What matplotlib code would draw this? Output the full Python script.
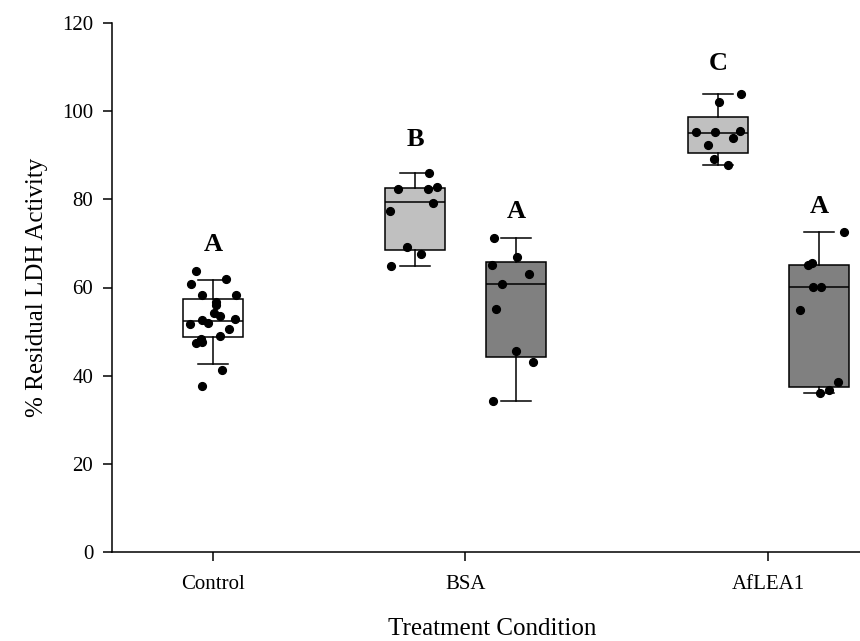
import numpy as np
import matplotlib
matplotlib.use("Agg")
from matplotlib import pyplot as plt

# =======================
# DATA
# =======================

conditions = ["Control", "BSA", "AfLEA1"]

# individual measurements (% residual LDH activity)
control_vals = [63.7, 60.9, 61.9, 58.2, 58.2, 56.8, 56.0, 54.2, 53.6, 52.9,
                52.7, 52.0, 51.8, 50.5, 49.1, 48.4, 47.5, 47.6, 41.2, 37.7]
bsa_light_vals = [85.9, 82.4, 82.3, 82.9, 79.2, 77.4, 69.3, 67.6, 64.8]
bsa_dark_vals = [71.3, 66.9, 65.1, 63.0, 60.7, 55.1, 45.7, 43.1, 34.3]
aflea_light_vals = [103.9, 102.1, 95.3, 95.3, 95.6, 93.9, 92.4, 89.1, 87.8]
aflea_dark_vals = [72.5, 65.0, 65.5, 60.1, 60.1, 54.8, 38.6, 36.8, 36.0]

# horizontal jitter of the points inside each box
control_jitter = [-0.17, -0.22, 0.13, -0.11, 0.23, 0.03, 0.03, 0.01, 0.07, 0.22,
                  -0.11, -0.05, -0.23, 0.16, 0.07, -0.12, -0.17, -0.11, 0.09, -0.11]
bsa_light_jitter = [0.14, -0.17, 0.13, 0.22, 0.18, -0.25, -0.08, 0.06, -0.24]
bsa_dark_jitter = [-0.22, 0.01, -0.24, 0.13, -0.14, -0.20, 0.0, 0.17, -0.23]
aflea_light_jitter = [0.23, 0.01, -0.22, -0.03, 0.22, 0.15, -0.10, -0.04, 0.10]
aflea_dark_jitter = [0.25, -0.11, -0.07, -0.06, 0.02, -0.19, 0.19, 0.10, 0.01]

# box summaries: lower whisker (10th), Q1, median, Q3, upper whisker (90th)
control_box = [42.6, 48.8, 52.5, 57.4, 61.8]
bsa_light_box = [64.8, 68.5, 79.3, 82.6, 85.9]
bsa_dark_box = [34.2, 44.3, 60.8, 65.8, 71.3]
aflea_light_box = [87.8, 90.6, 95.1, 98.7, 103.8]
aflea_dark_box = [36.0, 37.5, 60.1, 65.2, 72.5]

# significance groups
sig_letters = ["A", "B", "A", "C", "A"]
sig_y = [69.8, 93.5, 77.3, 110.8, 78.4]

# =======================
# PLOT
# =======================

def box_stats(summary):
    lo, q1, med, q3, hi = summary
    return dict(whislo=lo, q1=q1, med=med, q3=q3, whishi=hi, fliers=[])

def main():
    plt.rcParams["font.family"] = ["Liberation Serif", "DejaVu Serif"]
    fig = plt.figure(figsize=(8.6, 6.41), dpi=100)
    # axes runs a little past the right edge of the figure
    ax = fig.add_axes([112 / 860, 89 / 641, 761 / 860, 529 / 641])

    positions = [1, 3, 4, 6, 7]
    boxes = [control_box, bsa_light_box, bsa_dark_box, aflea_light_box, aflea_dark_box]
    values = [control_vals, bsa_light_vals, bsa_dark_vals, aflea_light_vals, aflea_dark_vals]
    jitters = [control_jitter, bsa_light_jitter, bsa_dark_jitter, aflea_light_jitter, aflea_dark_jitter]
    fills = ["white", "#c0c0c0", "#808080", "#c0c0c0", "#808080"]

    line = dict(color="black", linewidth=1.1)
    bp = ax.bxp([box_stats(b) for b in boxes], positions=positions, widths=0.6,
                capwidths=0.3, patch_artist=True, showfliers=False,
                boxprops=dict(edgecolor="black", linewidth=1.1),
                medianprops=line, whiskerprops=line, capprops=line)
    for patch, fc in zip(bp["boxes"], fills):
        patch.set_facecolor(fc)

    for pos, vals, jit in zip(positions, values, jitters):
        ax.plot(pos + np.array(jit), vals, "o", color="black", markersize=5.6, zorder=5)

    for pos, letter, y in zip(positions, sig_letters, sig_y):
        ax.text(pos, y, letter, ha="center", va="center", fontsize=19, fontweight="bold")

    ax.set_xlim(0, 7.535)
    ax.set_ylim(0, 120)
    ax.set_yticks(np.arange(0, 121, 20))
    ax.set_xticks([1, 3.5, 6.5])
    ax.set_xticklabels(conditions)
    ax.tick_params(axis="both", direction="out", length=6.5, width=1.1, labelsize=15)
    ax.tick_params(axis="y", pad=7)
    ax.tick_params(axis="x", pad=10)
    ax.spines["top"].set_visible(False)
    ax.spines["right"].set_visible(False)
    for side in ("left", "bottom"):
        ax.spines[side].set_linewidth(1.1)

    ax.set_xlabel("Treatment Condition", fontsize=18, labelpad=17)
    ax.set_ylabel("% Residual LDH Activity", fontsize=18, labelpad=10)

    fig.savefig("out.png", dpi=100)

if __name__ == "__main__":
    main()
